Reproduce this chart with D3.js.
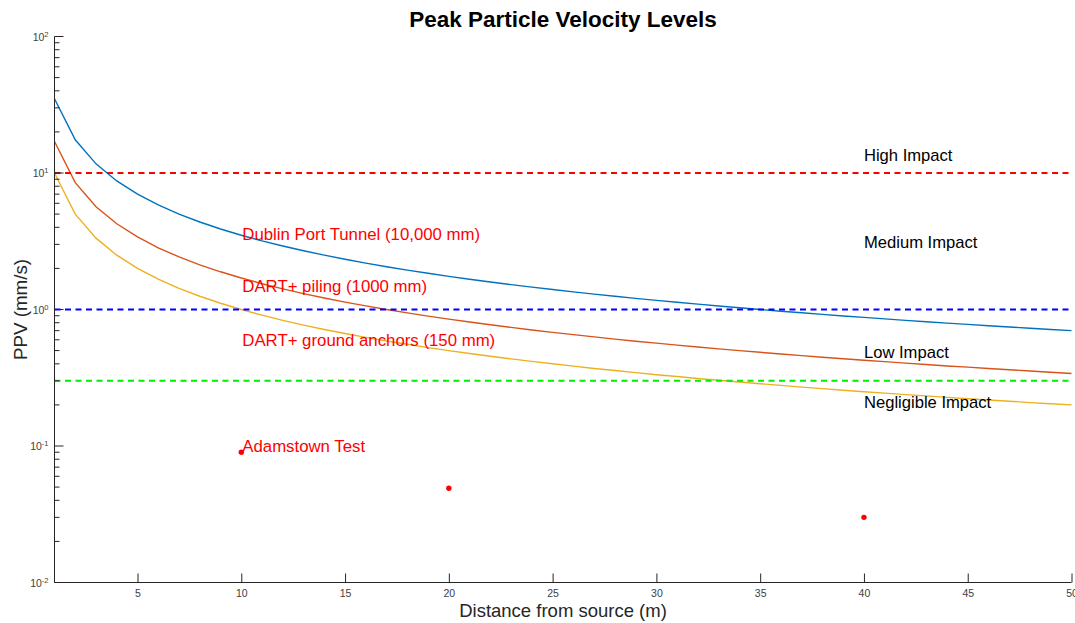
<!DOCTYPE html>
<html>
<head>
<meta charset="utf-8">
<script src="https://cdn.jsdelivr.net/npm/d3@7"></script>
<style>
  body { margin: 0; background: #fff; }
  svg { display: block; font-family: "Liberation Sans", Arial, Helvetica, sans-serif; }
</style>
</head>
<body>
<svg id="chart" width="1075" height="623"></svg>
<script>
// ---- data ----
const distance = d3.range(1, 51); // 1..50 m
const dublinPortTunnel = [35, 17.5, 11.67, 8.75, 7.0, 5.833, 5.0, 4.375, 3.889, 3.5,
  3.182, 2.917, 2.692, 2.5, 2.333, 2.188, 2.059, 1.944, 1.842, 1.75,
  1.667, 1.591, 1.522, 1.458, 1.4, 1.346, 1.296, 1.25, 1.207, 1.167,
  1.129, 1.094, 1.061, 1.029, 1.0, 0.972, 0.946, 0.921, 0.897, 0.875,
  0.854, 0.833, 0.814, 0.795, 0.778, 0.761, 0.745, 0.729, 0.714, 0.7];
const dartPiling = [17, 8.5, 5.667, 4.25, 3.4, 2.833, 2.429, 2.125, 1.889, 1.7,
  1.545, 1.417, 1.308, 1.214, 1.133, 1.0625, 1.0, 0.944, 0.895, 0.85,
  0.81, 0.773, 0.739, 0.708, 0.68, 0.654, 0.63, 0.607, 0.586, 0.567,
  0.548, 0.531, 0.515, 0.5, 0.486, 0.472, 0.459, 0.447, 0.436, 0.425,
  0.415, 0.405, 0.395, 0.386, 0.378, 0.37, 0.362, 0.354, 0.347, 0.34];
const dartAnchors = [10, 5, 3.333, 2.5, 2.0, 1.667, 1.429, 1.25, 1.111, 1.0,
  0.909, 0.833, 0.769, 0.714, 0.667, 0.625, 0.588, 0.556, 0.526, 0.5,
  0.476, 0.455, 0.435, 0.417, 0.4, 0.385, 0.37, 0.357, 0.345, 0.333,
  0.323, 0.3125, 0.303, 0.294, 0.286, 0.278, 0.27, 0.263, 0.256, 0.25,
  0.244, 0.238, 0.233, 0.227, 0.222, 0.217, 0.213, 0.208, 0.204, 0.2];
const adamstownX = [10, 20, 40];
const adamstownY = [0.09, 0.049, 0.03];
const thresholdValues = [10, 1, 0.3];
const thresholdColors = ["#ff0000", "#0000ff", "#00ee00"];
const impactLabels = ["High Impact", "Medium Impact", "Low Impact", "Negligible Impact"];
const impactLabelY = [13.5, 3.1, 0.49, 0.21];
const impactLabelX = 40;
const sourceLabels = ["Dublin Port Tunnel (10,000 mm)", "DART+ piling (1000 mm)", "DART+ ground anchors (150 mm)", "Adamstown Test"];
const sourceLabelY = [3.6, 1.5, 0.6, 0.1];
const sourceLabelX = 10;
const xTicks = [5, 10, 15, 20, 25, 30, 35, 40, 45, 50];
const yDecades = [-2, -1, 0, 1, 2];
const seriesColors = ["#0072BD", "#D95319", "#EDB120"];

// ---- chart ----
const svg = d3.select("#chart");
const mLeft = 54.5, mRight = 1071.5, mTop = 36.5, mBottom = 582.5;
const x = d3.scaleLinear().domain([1, 50]).range([mLeft, mRight]);
const y = d3.scaleLog().domain([0.01, 100]).range([mBottom, mTop]);
const axisColor = "#262626";

// series lines
const series = [dublinPortTunnel, dartPiling, dartAnchors];
const line = d3.line().x((d, i) => x(distance[i])).y(d => y(d));
series.forEach((s, k) => {
  svg.append("path").datum(s).attr("d", line)
    .attr("fill", "none").attr("stroke", seriesColors[k]).attr("stroke-width", 1.4);
});

// threshold dashed lines
thresholdValues.forEach((v, k) => {
  svg.append("line")
    .attr("x1", x(1)).attr("x2", x(50))
    .attr("y1", y(v)).attr("y2", y(v))
    .attr("stroke", thresholdColors[k]).attr("stroke-width", 2)
    .attr("stroke-dasharray", "6,4.5");
});

// points
svg.selectAll("circle.pt").data(adamstownX).enter().append("circle")
  .attr("cx", d => x(d)).attr("cy", (d, i) => y(adamstownY[i]))
  .attr("r", 2.7).attr("fill", "#ff0000");

// labels
svg.selectAll("text.imp").data(impactLabels).enter().append("text")
  .attr("x", x(impactLabelX)).attr("y", (d, i) => y(impactLabelY[i]))
  .attr("dy", "0.36em").attr("font-size", 16.6).attr("fill", "#000")
  .text(d => d);
svg.selectAll("text.src").data(sourceLabels).enter().append("text")
  .attr("x", x(sourceLabelX) + 1).attr("y", (d, i) => y(sourceLabelY[i]))
  .attr("dy", "0.36em").attr("font-size", 16.8).attr("fill", "#ff0000")
  .text(d => d);

// x axis
const xAxis = d3.axisBottom(x).tickValues(xTicks).tickSizeInner(-9).tickSizeOuter(0).tickPadding(7);
const gx = svg.append("g").attr("transform", `translate(0,${mBottom})`).call(xAxis);
gx.select(".domain").attr("stroke", axisColor).attr("d", `M${mLeft},0H${mRight}`);
gx.selectAll(".tick line").attr("stroke", axisColor);
gx.selectAll(".tick text").attr("fill", "#404040").attr("font-size", 10.5)
  .attr("font-family", "Liberation Sans, Arial, sans-serif");

// y axis (log, with minor ticks)
const gy = svg.append("g").attr("transform", `translate(${mLeft},0)`);
gy.append("line").attr("x1", 0).attr("x2", 0).attr("y1", mTop).attr("y2", mBottom).attr("stroke", axisColor);
const minor = [];
yDecades.slice(0, -1).forEach(e => { for (let m = 2; m <= 9; m++) minor.push(m * Math.pow(10, e)); });
gy.selectAll("line.minor").data(minor).enter().append("line")
  .attr("x1", 0).attr("x2", 5).attr("y1", d => y(d)).attr("y2", d => y(d)).attr("stroke", axisColor);
gy.selectAll("line.major").data(yDecades).enter().append("line")
  .attr("x1", 0).attr("x2", 9).attr("y1", d => y(Math.pow(10, d))).attr("y2", d => y(Math.pow(10, d))).attr("stroke", axisColor);
const yl = gy.selectAll("text.ylab").data(yDecades).enter().append("text")
  .attr("x", -6).attr("y", d => y(Math.pow(10, d)) + 4)
  .attr("text-anchor", "end").attr("fill", "#404040").attr("font-size", 10.5);
yl.append("tspan").text("10");
yl.append("tspan").attr("dy", -4).attr("font-size", 7.5).text(d => d);

// titles
svg.append("text").attr("x", (mLeft + mRight) / 2).attr("y", 27).attr("text-anchor", "middle")
  .attr("font-size", 22.5).attr("font-weight", "bold").attr("fill", "#000")
  .text("Peak Particle Velocity Levels");
svg.append("text").attr("x", (mLeft + mRight) / 2).attr("y", 617).attr("text-anchor", "middle")
  .attr("font-size", 18.5).attr("fill", "#262626").text("Distance from source (m)");
svg.append("text").attr("transform", `translate(27,${(mTop + mBottom) / 2}) rotate(-90)`)
  .attr("text-anchor", "middle").attr("font-size", 18.8).attr("fill", "#262626").text("PPV (mm/s)");
</script>
</body>
</html>
